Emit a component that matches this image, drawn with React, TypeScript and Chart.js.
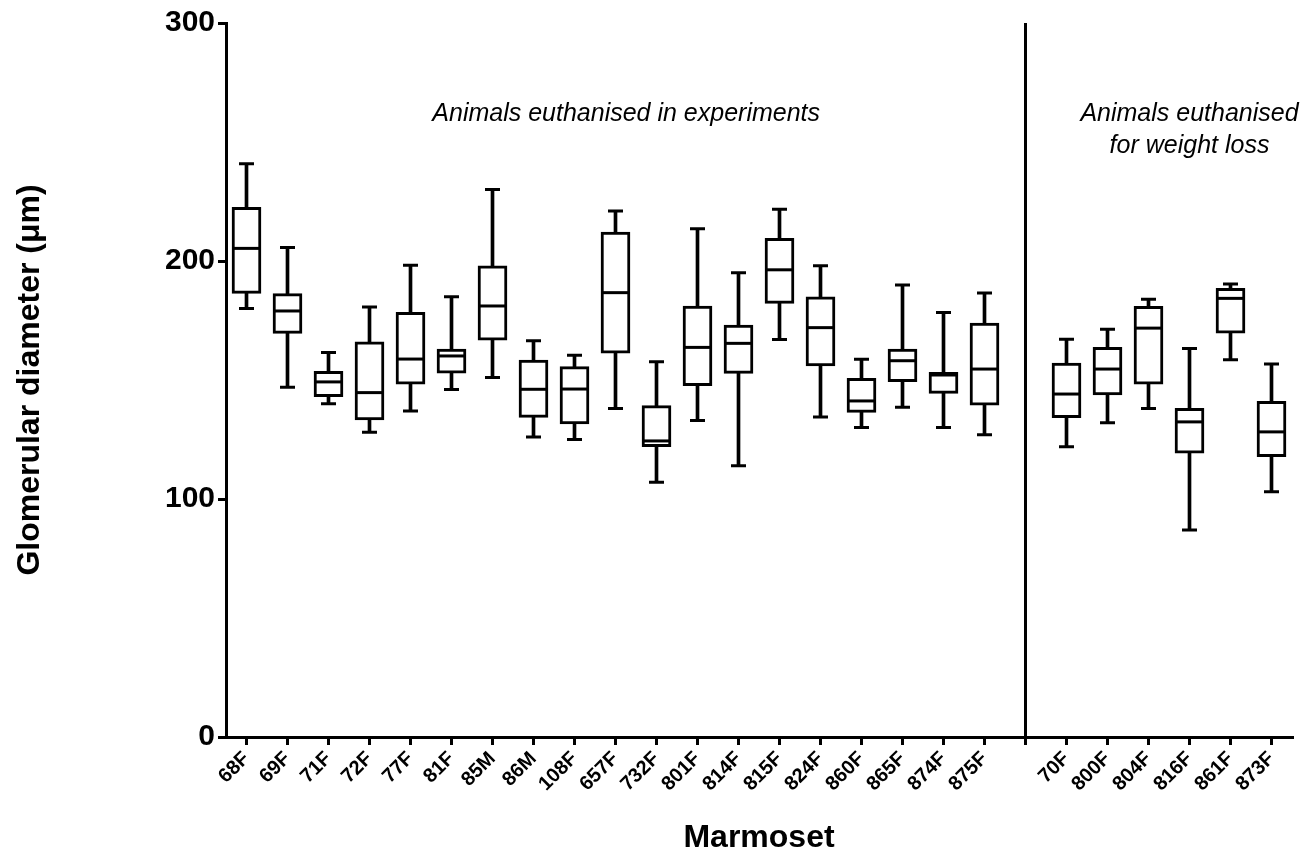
import React, { useEffect, useRef } from 'react';
import { Chart, registerables } from 'chart.js';

Chart.register(...registerables);

// Categories (empty slot = gap between the two groups)
const categories = ['68F', '69F', '71F', '72F', '77F', '81F', '85M', '86M', '108F', '657F', '732F', '801F', '814F', '815F', '824F', '860F', '865F', '874F', '875F', '', '70F', '800F', '804F', '816F', '861F', '873F'];

const whiskerMin = [180, 147, 140, 128, 137, 146, 151, 126, 125, 138, 107, 133, 114, 167, 134.5, 130, 138.5, 130, 127, null, 122, 132, 138, 87, 158.5, 103];
const quartile1 = [186.4, 169.6, 143, 133.2, 148.3, 152.9, 166.7, 134.3, 131.5, 161.3, 122, 147.6, 152.8, 182.2, 155.9, 136.4, 149.3, 144.4, 139.4, null, 134.2, 143.7, 148.2, 119.3, 169.7, 117.8];
const medians = [205.3, 179, 149.2, 144.7, 158.8, 160.1, 181.1, 146.1, 146.2, 186.7, 124.4, 163.7, 165.4, 196.3, 172, 141.2, 158.1, 152.1, 154.6, null, 144.1, 154.6, 171.8, 132.4, 184.3, 128.2];
const quartile3 = [222.5, 186.3, 153.6, 166, 178.4, 163, 198, 158.4, 155.6, 212.2, 139.2, 181.1, 173.1, 209.5, 184.9, 150.7, 163, 153.2, 173.9, null, 157.1, 163.7, 181, 138.1, 188.5, 141];
const whiskerMax = [240.9, 205.7, 161.6, 180.7, 198.2, 185, 230, 166.5, 160.4, 221, 157.7, 213.6, 195.1, 221.7, 198, 158.7, 189.9, 178.4, 186.6, null, 167.1, 171.3, 183.9, 163.2, 190.3, 156.7];

const yTicks = [0, 100, 200, 300];
const gapIndex = 19;

const FONT = '"Liberation Sans", Arial, Helvetica, sans-serif';

export default function App() {
  const canvasRef = useRef<HTMLCanvasElement>(null);

  useEffect(() => {
    document.body.style.margin = '0';
    const canvas = canvasRef.current;
    if (!canvas) return;

    const boxes = quartile1.map((v, i) => (v == null ? null : [v, quartile3[i] as number]));
    const whiskers = whiskerMin.map((v, i) => (v == null ? null : [v, whiskerMax[i] as number]));

    const annotationPlugin = {
      id: 'groupAnnotations',
      afterDraw(chart: any) {
        const { ctx, scales } = chart;
        const x = scales.x;
        const y = scales.y;
        ctx.save();
        ctx.fillStyle = '#000';
        ctx.font = `italic 25px ${FONT}`;
        ctx.textAlign = 'center';
        ctx.textBaseline = 'alphabetic';
        ctx.fillText('Animals euthanised in experiments', x.getPixelForValue(9.26), y.getPixelForValue(259));
        ctx.fillText('Animals euthanised', x.getPixelForValue(23), y.getPixelForValue(259));
        ctx.fillText('for weight loss', x.getPixelForValue(23), y.getPixelForValue(245.5));
        ctx.restore();
      },
    };

    const chart = new Chart(canvas, {
      type: 'bar',
      data: {
        labels: categories,
        datasets: [
          {
            type: 'bar',
            data: whiskers as any,
            backgroundColor: '#000',
            borderWidth: 0,
            barThickness: 3,
            grouped: false,
            order: 3,
          },
          {
            type: 'bar',
            data: boxes as any,
            backgroundColor: '#fff',
            borderColor: '#000',
            borderWidth: 3,
            borderSkipped: false,
            barThickness: 29,
            grouped: false,
            order: 2,
          },
          {
            type: 'line',
            data: medians as any,
            showLine: false,
            pointStyle: 'line',
            pointRadius: 14,
            pointBorderWidth: 3,
            pointBorderColor: '#000',
            pointBackgroundColor: '#000',
            order: 1,
          },
          {
            type: 'line',
            data: whiskerMax as any,
            showLine: false,
            pointStyle: 'line',
            pointRadius: 7.5,
            pointBorderWidth: 3,
            pointBorderColor: '#000',
            pointBackgroundColor: '#000',
            order: 1,
          },
          {
            type: 'line',
            data: whiskerMin as any,
            showLine: false,
            pointStyle: 'line',
            pointRadius: 7.5,
            pointBorderWidth: 3,
            pointBorderColor: '#000',
            pointBackgroundColor: '#000',
            order: 1,
          },
        ],
      },
      options: {
        responsive: false,
        animation: false,
        events: [],
        layout: { padding: { top: 23, right: 21, left: 0, bottom: 0 } },
        plugins: {
          legend: { display: false },
          tooltip: { enabled: false },
        },
        scales: {
          x: {
            type: 'category',
            offset: true,
            afterFit: (scale: any) => {
              scale.height = 120;
            },
            grid: {
              offset: false,
              drawOnChartArea: true,
              color: (ctx: any) => (ctx.index === gapIndex ? '#000' : 'rgba(0,0,0,0)'),
              lineWidth: 3,
              tickColor: '#000',
              tickLength: 8,
              tickWidth: 3,
            },
            border: { display: true, color: '#000', width: 3 },
            ticks: {
              autoSkip: false,
              minRotation: 45,
              maxRotation: 45,
              padding: 2,
              color: '#000',
              font: { family: FONT, size: 20, weight: 'bold' },
            },
            title: {
              display: true,
              text: 'Marmoset',
              color: '#000',
              font: { family: FONT, size: 32, weight: 'bold' },
              padding: { top: 0, bottom: 0 },
            },
          },
          y: {
            min: 0,
            max: 300,
            afterFit: (scale: any) => {
              scale.width = 226;
            },
            afterBuildTicks: (scale: any) => {
              scale.ticks = yTicks.map((v) => ({ value: v }));
            },
            grid: {
              drawOnChartArea: false,
              tickColor: '#000',
              tickLength: 8,
              tickWidth: 3,
            },
            border: { display: true, color: '#000', width: 3 },
            ticks: {
              color: '#000',
              padding: 3,
              font: { family: FONT, size: 30, weight: 'bold' },
            },
            title: {
              display: true,
              text: 'Glomerular diameter (μm)',
              color: '#000',
              font: { family: FONT, size: 32, weight: 'bold' },
              padding: { top: 11, bottom: 0 },
            },
          },
        },
      },
      plugins: [annotationPlugin],
    });

    return () => chart.destroy();
  }, []);

  return (
    <div style={{ width: 1313, height: 857, overflow: 'hidden', background: '#fff' }}>
      <canvas ref={canvasRef} width={1313} height={857} />
    </div>
  );
}
